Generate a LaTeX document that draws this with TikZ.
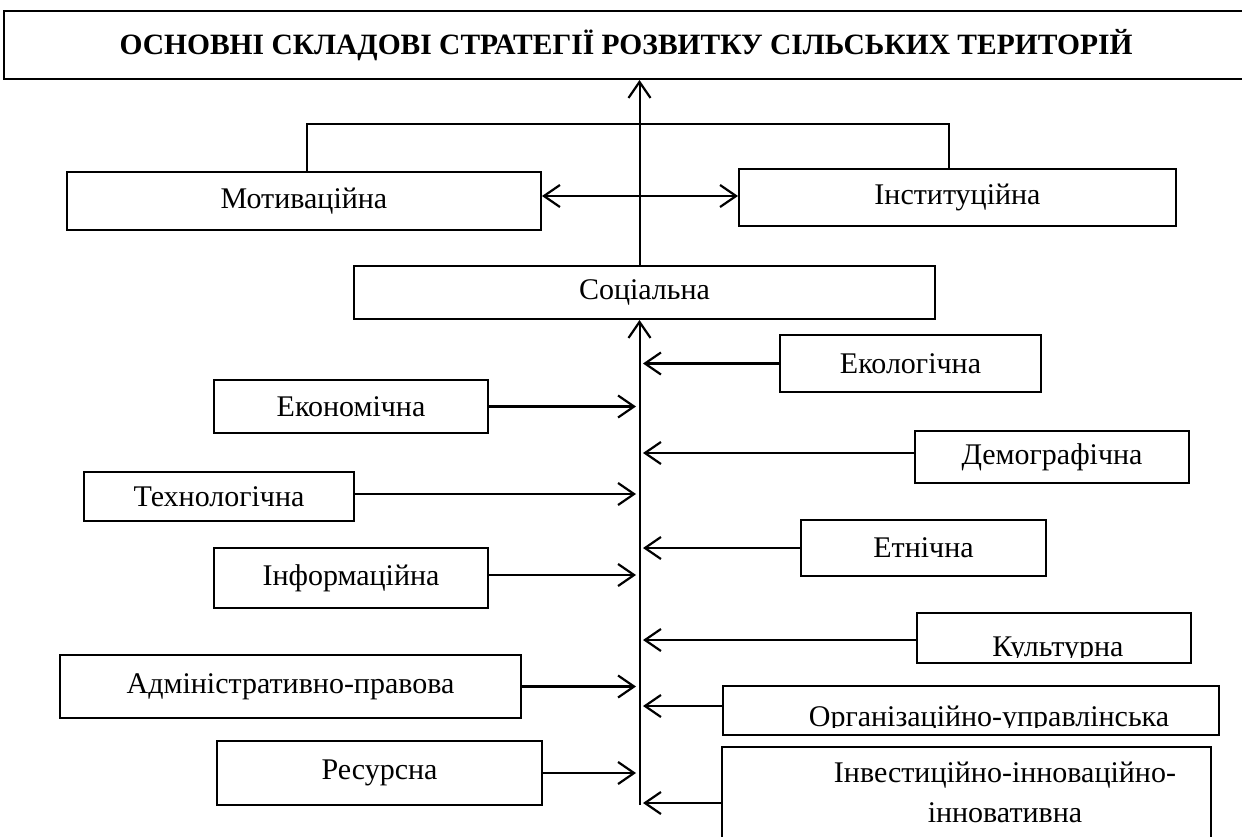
\documentclass[tikz,border=0pt]{standalone}
\usepackage{fontspec}
\setmainfont{Liberation Serif}
\usetikzlibrary{arrows.meta}
\begin{document}
\begin{tikzpicture}[x=1pt,y=-1pt,
  box/.style={draw, line width=2pt, inner sep=0pt, font=\fontsize{30}{40}\selectfont},
  lbl/.style={inner sep=0pt, font=\fontsize{30}{40}\selectfont},
  conn/.style={line width=2pt},
  spine/.style={line width=2pt},
  barb/.tip={Straight Barb[length=16pt,width=22pt,line width=2.2pt]},
  arr/.style={line width=2.2pt, -barb},
  arrtwo/.style={line width=2.8pt, barb-barb},
]
\useasboundingbox (0,0) rectangle (1242,836);
\fill[white] (0,0) rectangle (1242,836);

% helper coordinates
\coordinate (sp) at (639.5,0);
\coordinate (tl) at (636,0);
\coordinate (tr) at (643,0);
\coordinate (bl) at (307,0);
\coordinate (br) at (949,0);
\coordinate (brk) at (0,124);
\coordinate (dy) at (0,196);
\coordinate (spbot) at (639.5,805);

% boxes
\node[box, minimum width=1244, minimum height=68, font=\fontsize{29.5}{40}\selectfont\bfseries] (title) at (626,45) {ОСНОВНІ СКЛАДОВІ СТРАТЕГІЇ РОЗВИТКУ СІЛЬСЬКИХ ТЕРИТОРІЙ};
\node[box, minimum width=474, minimum height=58] (mot) at (304,201) {Мотиваційна};
\node[box, minimum width=437, minimum height=57] (inst) at (957.5,197.5) {Інституційна};
\node[box, minimum width=581, minimum height=53] (soc) at (644.5,292.5) {Соціальна};
\node[box, minimum width=261, minimum height=57] (eco) at (910.5,363.5) {Екологічна};
\node[box, minimum width=274, minimum height=53] (econ) at (351,406.5) {Економічна};
\node[box, minimum width=274, minimum height=52] (demo) at (1052,457) {Демографічна};
\node[box, minimum width=270, minimum height=49] (tech) at (219,496.5) {Технологічна};
\node[box, minimum width=245, minimum height=56] (eth) at (923.5,548) {Етнічна};
\node[box, minimum width=274, minimum height=60] (info) at (351,578) {Інформаційна};
\node[box, minimum width=274, minimum height=50] (cult) at (1054,638) {};
\node[box, minimum width=461, minimum height=63] (admin) at (290.5,686.5) {Адміністративно-правова};
\node[box, minimum width=496, minimum height=49] (org) at (971,710.5) {};
\node[box, minimum width=325, minimum height=64] (res) at (379.5,773) {Ресурсна};
\node[box, minimum width=489, minimum height=112] (inv) at (966.5,803) {};

% clipped / offset labels
\begin{scope}
  \clip (918,614) rectangle (1190,657);
  \node[lbl, anchor=base] (culttxt) at (1058,656) {Культурна};
\end{scope}
\begin{scope}
  \clip (724,687) rectangle (1218,727);
  \node[lbl, anchor=base] (orgtxt) at (989,726) {Організаційно-управлінська};
\end{scope}
\node[lbl, align=center, anchor=base] (invtxt) at (1005,822) {Інвестиційно-інноваційно-\\інновативна};

% top part
\draw[line width=2pt, -barb] (soc.north -| sp) -- (title.south -| sp);
\draw[conn] (mot.north -| bl) -- (bl |- brk) -- (br |- brk) -- (inst.north -| br);
\draw[arrtwo] (mot.east |- dy) -- (inst.west |- dy);

% spine
\draw[spine, -barb] (spbot) -- (soc.south -| sp);

% left arrows
\draw[arr] (econ.east) -- (econ.east -| tl);
\draw[arr] ([yshift=2.5pt]tech.east) -- ([yshift=2.5pt]tech.east -| tl);
\draw[arr] ([yshift=3pt]info.east) -- ([yshift=3pt]info.east -| tl);
\draw[arr] (admin.east) -- (admin.east -| tl);
\draw[arr] (res.east) -- (res.east -| tl);

% right arrows
\draw[arr] (eco.west) -- (eco.west -| tr);
\draw[arr] ([yshift=4pt]demo.west) -- ([yshift=4pt]demo.west -| tr);
\draw[arr] (eth.west) -- (eth.west -| tr);
\draw[arr] ([yshift=-2pt]cult.west) -- ([yshift=-2pt]cult.west -| tr);
\draw[arr] ([yshift=4.5pt]org.west) -- ([yshift=4.5pt]org.west -| tr);
\draw[arr] (inv.west) -- (inv.west -| tr);
\end{tikzpicture}
\end{document}
